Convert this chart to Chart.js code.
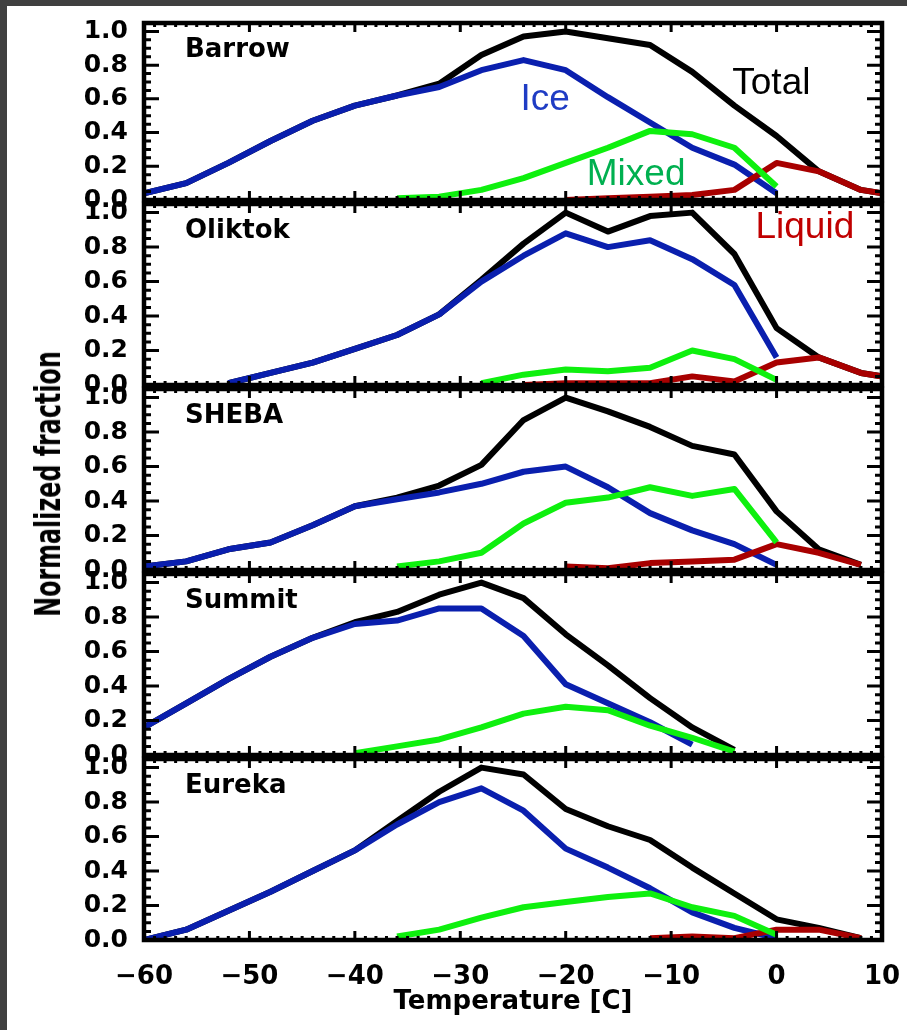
<!DOCTYPE html>
<html lang="en">
<head>
  <meta charset="UTF-8">
  <title>Normalized fraction by temperature</title>
  <script src="https://cdn.jsdelivr.net/npm/chart.js@4.4.1/dist/chart.umd.min.js"></script>
  <style>
    * { margin: 0; padding: 0; box-sizing: border-box; }
    body { background: #fff; width: 907px; height: 1030px; overflow: hidden; position: relative; font-family: 'DejaVu Sans', sans-serif; }
    .edge-top { position: absolute; left: 0; top: 0; width: 907px; height: 6px; background: #404040; }
    .edge-left { position: absolute; left: 0; top: 0; width: 7px; height: 1030px; background: #404040; }
    #stage canvas { position: absolute; left: 0; top: 0; }
    .ytitle { position: absolute; left: 48px; top: 484px; transform: translate(-50%, -50%) rotate(-90deg) scaleX(0.68); font: bold 35px 'DejaVu Sans', sans-serif; white-space: nowrap; color: #000; }
  </style>
</head>
<body>
  <div class="edge-top"></div>
  <div class="edge-left"></div>
  <div id="stage"></div>
  <div class="ytitle">Normalized fraction</div>

  <script>
    // temperature bins [C]
    const temps = [-60, -56, -52, -48, -44, -40, -36, -32, -28, -24, -20, -16, -12, -8, -4, 0, 4, 8, 12];
    const xTicks = [-60, -50, -40, -30, -20, -10, 0, 10];
    const yTicks = [0, 0.2, 0.4, 0.6, 0.8, 1.0];
    const stations = ['Barrow', 'Oliktok', 'SHEBA', 'Summit', 'Eureka'];

    const barrowIce    = [0.04, 0.10, 0.22, 0.35, 0.47, 0.56, 0.62, 0.67, 0.77, 0.83, 0.77, 0.61, 0.46, 0.31, 0.21, 0.04, null, null, null];
    const barrowMixed  = [null, null, null, null, null, null, 0.01, 0.02, 0.06, 0.13, 0.22, 0.31, 0.41, 0.39, 0.31, 0.08, null, null, null];
    const barrowLiquid = [null, null, null, null, null, null, null, null, null, null, 0.00, 0.01, 0.02, 0.03, 0.06, 0.22, 0.17, 0.06, 0.02];
    const barrowTotal  = [0.04, 0.10, 0.22, 0.35, 0.47, 0.56, 0.62, 0.69, 0.86, 0.97, 1.00, 0.96, 0.92, 0.76, 0.56, 0.38, 0.17, 0.06, 0.02];

    const oliktokIce    = [null, null, 0.01, 0.07, 0.13, 0.21, 0.29, 0.41, 0.60, 0.75, 0.88, 0.80, 0.84, 0.73, 0.58, 0.16, null, null, null];
    const oliktokMixed  = [null, null, null, null, null, null, null, null, 0.01, 0.06, 0.09, 0.08, 0.10, 0.20, 0.15, 0.03, null, null, null];
    const oliktokLiquid = [null, null, null, null, null, null, null, null, null, 0.00, 0.01, 0.01, 0.01, 0.05, 0.02, 0.13, 0.16, 0.07, 0.03];
    const oliktokTotal  = [null, null, 0.01, 0.07, 0.13, 0.21, 0.29, 0.41, 0.61, 0.82, 1.00, 0.89, 0.98, 1.00, 0.76, 0.33, 0.16, 0.07, 0.03];

    const shebaIce    = [0.02, 0.05, 0.12, 0.16, 0.26, 0.37, 0.41, 0.45, 0.50, 0.57, 0.60, 0.48, 0.33, 0.23, 0.15, 0.03, null, null, null];
    const shebaMixed  = [null, null, null, null, null, null, 0.02, 0.05, 0.10, 0.27, 0.39, 0.42, 0.48, 0.43, 0.47, 0.16, null, null, null];
    const shebaLiquid = [null, null, null, null, null, null, null, null, null, null, 0.02, 0.01, 0.04, 0.05, 0.06, 0.15, 0.10, 0.03, null];
    const shebaTotal  = [0.02, 0.05, 0.12, 0.16, 0.26, 0.37, 0.42, 0.49, 0.61, 0.87, 1.00, 0.92, 0.83, 0.72, 0.67, 0.34, 0.12, 0.03, null];

    const summitIce    = [0.16, 0.30, 0.44, 0.57, 0.68, 0.76, 0.78, 0.85, 0.85, 0.69, 0.41, 0.30, 0.19, 0.06, null, null, null, null, null];
    const summitMixed  = [null, null, null, null, null, 0.01, 0.05, 0.09, 0.16, 0.24, 0.28, 0.26, 0.17, 0.10, 0.02, null, null, null, null];
    const summitLiquid = [null, null, null, null, null, null, null, null, null, null, null, null, null, null, null, null, null, null, null];
    const summitTotal  = [0.16, 0.30, 0.44, 0.57, 0.68, 0.77, 0.83, 0.93, 1.00, 0.91, 0.70, 0.52, 0.33, 0.16, 0.03, null, null, null, null];

    const eurekaIce    = [0.00, 0.06, 0.17, 0.28, 0.40, 0.52, 0.67, 0.80, 0.88, 0.75, 0.53, 0.42, 0.30, 0.16, 0.07, 0.01, null, null, null];
    const eurekaMixed  = [null, null, null, null, null, null, 0.02, 0.06, 0.13, 0.19, 0.22, 0.25, 0.27, 0.19, 0.14, 0.03, null, null, null];
    const eurekaLiquid = [null, null, null, null, null, null, null, null, null, null, null, null, 0.01, 0.02, 0.01, 0.06, 0.06, 0.01, null];
    const eurekaTotal  = [0.00, 0.06, 0.17, 0.28, 0.40, 0.52, 0.69, 0.86, 1.00, 0.96, 0.76, 0.66, 0.58, 0.42, 0.27, 0.12, 0.07, 0.01, null];

    const panels = [
      { ice: barrowIce,  mixed: barrowMixed,  liquid: barrowLiquid,  total: barrowTotal },
      { ice: oliktokIce, mixed: oliktokMixed, liquid: oliktokLiquid, total: oliktokTotal },
      { ice: shebaIce,   mixed: shebaMixed,   liquid: shebaLiquid,   total: shebaTotal },
      { ice: summitIce,  mixed: summitMixed,  liquid: summitLiquid,  total: summitTotal },
      { ice: eurekaIce,  mixed: eurekaMixed,  liquid: eurekaLiquid,  total: eurekaTotal }
    ];

    // phase labels written on the panels (panel index, position in data units)
    const notes = [
      { panel: 0, text: 'Ice',    x: -24.3, y: 0.535, color: '#1f3cc4' },
      { panel: 0, text: 'Total',  x: -4.2,  y: 0.63,  color: '#000000' },
      { panel: 0, text: 'Mixed',  x: -18.0, y: 0.09,  color: '#00b050' },
      { panel: 1, text: 'Liquid', x: -2.0,  y: 0.855, color: '#c00000' }
    ];

    const W = 907, H = 1030;
    const PLOT_LEFT = 144, PLOT_RIGHT = 882;
    const TOP0 = 19, PANEL_H = 181, STEP = 185;
    const BLUE = '#0a1fae', GREEN = '#0ef00e', RED = '#a80000', BLACK = '#000000';

    Chart.defaults.font.family = "'DejaVu Sans', sans-serif";
    Chart.defaults.color = '#000';

    const framePlugin = {
      id: 'frame',
      afterDatasetsDraw(chart, args, opts) {
        const { ctx, chartArea: a, scales: { x, y } } = chart;
        ctx.save();
        ctx.strokeStyle = '#000';
        ctx.lineWidth = 3;
        ctx.beginPath();
        for (let t = -60; t <= 10; t++) {
          const px = x.getPixelForValue(t);
          const len = t % 10 === 0 ? 9 : 4;
          ctx.moveTo(px, a.top); ctx.lineTo(px, a.top + len);
          ctx.moveTo(px, a.bottom); ctx.lineTo(px, a.bottom - len);
        }
        for (let k = 0; k <= 20; k++) {
          const py = y.getPixelForValue(k * 0.05);
          const len = k % 4 === 0 ? 15 : 7;
          ctx.moveTo(a.left, py); ctx.lineTo(a.left + len, py);
          ctx.moveTo(a.right, py); ctx.lineTo(a.right - len, py);
        }
        ctx.stroke();
        ctx.lineWidth = 4.5;
        ctx.strokeRect(a.left, a.top, a.right - a.left, a.bottom - a.top);

        ctx.fillStyle = '#000';
        ctx.font = "bold 26px 'DejaVu Sans'";
        ctx.textBaseline = 'alphabetic';
        ctx.fillText(opts.name, a.left + 41, a.top + 34);

        ctx.font = "37px 'Liberation Sans'";
        opts.notes.forEach(n => {
          ctx.fillStyle = n.color;
          ctx.fillText(n.text, x.getPixelForValue(n.x), y.getPixelForValue(n.y));
        });
        ctx.restore();
      }
    };

    function series(values, color) {
      return {
        data: temps.map((t, i) => ({ x: t, y: values[i] })),
        borderColor: color,
        borderWidth: 6,
        pointRadius: 0,
        tension: 0,
        borderJoinStyle: 'round',
        clip: 0,
        spanGaps: false
      };
    }

    const stage = document.getElementById('stage');
    const fmtT = v => (v < 0 ? '\u2212' + Math.abs(v) : String(v));

    panels.forEach((p, i) => {
      const canvas = document.createElement('canvas');
      canvas.width = W;
      canvas.height = H;
      stage.appendChild(canvas);
      const top = TOP0 + i * STEP;
      const bottom = top + PANEL_H;
      const last = i === panels.length - 1;

      new Chart(canvas, {
        type: 'line',
        data: {
          datasets: [
            series(p.mixed, GREEN),
            series(p.liquid, RED),
            series(p.ice, BLUE),
            series(p.total, BLACK)
          ]
        },
        options: {
          responsive: false,
          animation: false,
          devicePixelRatio: 1,
          layout: { padding: { left: 0, right: W - PLOT_RIGHT, top: top, bottom: last ? 0 : H - bottom } },
          plugins: {
            legend: { display: false },
            tooltip: { enabled: false },
            frame: { name: stations[i], notes: notes.filter(n => n.panel === i) }
          },
          scales: {
            x: {
              type: 'linear',
              min: -60,
              max: 10,
              display: last,
              afterBuildTicks: s => { s.ticks = xTicks.map(v => ({ value: v })); },
              afterFit: s => {
                s.paddingLeft = 0;
                s.paddingRight = 0;
                if (last) s.height = H - bottom;
              },
              grid: { display: false },
              border: { display: false },
              ticks: { padding: 14, font: { size: 26, weight: 'bold' }, color: '#000', maxRotation: 0, callback: fmtT },
              title: { display: true, text: 'Temperature [C]', color: '#000', font: { size: 26, weight: 'bold' }, padding: { top: 0, bottom: 12 } }
            },
            y: {
              type: 'linear',
              min: 0,
              max: 1.05,
              afterBuildTicks: s => { s.ticks = yTicks.map(v => ({ value: v })); },
              afterFit: s => { s.width = PLOT_LEFT; },
              grid: { display: false },
              border: { display: false },
              ticks: { padding: 8, font: { size: 25, weight: 'bold' }, color: '#000', callback: v => v.toFixed(1) }
            }
          }
        },
        plugins: [framePlugin]
      });
    });
  </script>
</body>
</html>
